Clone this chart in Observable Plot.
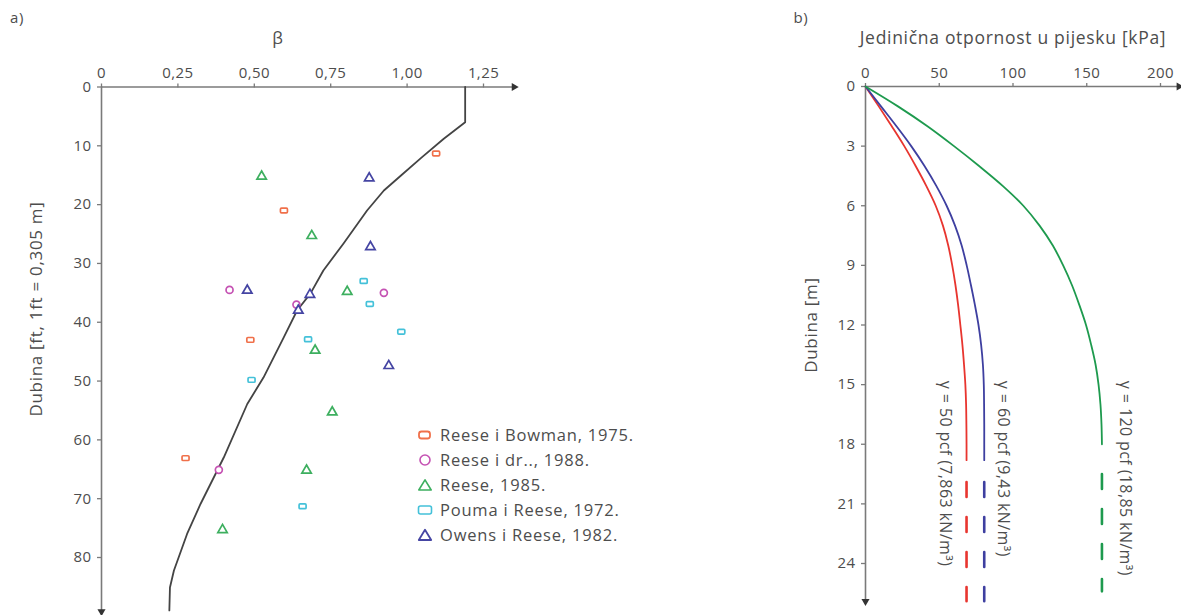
<!DOCTYPE html>
<html><head><meta charset="utf-8">
<script src="https://cdn.jsdelivr.net/npm/d3@7"></script>
<script src="https://cdn.jsdelivr.net/npm/@observablehq/plot@0.6"></script>
<style>
body{margin:0;background:#fff;font-family:"Open Sans",sans-serif;color:#4d4d4d}
#wrap{position:relative;width:1181px;height:615px;overflow:hidden;background:#fff}
.abs{position:absolute;white-space:nowrap;line-height:1;letter-spacing:0.7px}
.plot{position:absolute;top:0}
.leg{position:absolute;left:416px;top:422px;font-size:16.5px;color:#4d4d4d;letter-spacing:0.8px}
.leg div{height:25px;display:flex;align-items:center}
.leg svg{width:18px;height:14px;margin-right:6px}
</style></head><body><div id="wrap"></div>
<script>
// ---------- Panel a) data ----------
const betaTicks = [0, 0.25, 0.5, 0.75, 1.0, 1.25];
const depthFtTicks = [0, 10, 20, 30, 40, 50, 60, 70, 80];
const curveDepth = [0, 6, 8.8, 12, 15, 17.6, 21, 26.6, 31.2, 35.1, 38, 42.6, 49.4, 53.9, 63, 70.9, 76, 82.2, 85.1, 89];
const curveBeta  = [1.19, 1.19, 1.12, 1.047, 0.981, 0.924, 0.869, 0.792, 0.726, 0.684, 0.640, 0.596, 0.530, 0.477, 0.400, 0.324, 0.280, 0.237, 0.224, 0.222];

const seriesNames = ["Reese i Bowman, 1975.", "Reese i dr.., 1988.", "Reese, 1985.", "Pouma i Reese, 1972.", "Owens i Reese, 1982."];
const bowmanBeta  = [1.095, 0.597, 0.487, 0.275];
const bowmanDepth = [11.3, 21.0, 43.0, 63.1];
const reeseDrBeta  = [0.419, 0.924, 0.638, 0.384];
const reeseDrDepth = [34.5, 35.0, 37.0, 65.1];
const reese85Beta  = [0.524, 0.688, 0.804, 0.699, 0.755, 0.671, 0.396];
const reese85Depth = [15.2, 25.3, 34.8, 44.8, 55.3, 65.2, 75.3];
const poumaBeta  = [0.858, 0.878, 0.981, 0.676, 0.491, 0.658];
const poumaDepth = [33.0, 36.9, 41.6, 42.9, 49.8, 71.3];
const owensBeta  = [0.876, 0.880, 0.477, 0.682, 0.644, 0.940];
const owensDepth = [15.5, 27.2, 34.6, 35.3, 38.0, 47.4];

// ---------- Panel b) data ----------
const kpaTicks = [0, 50, 100, 150, 200];
const depthMTicks = [0, 3, 6, 9, 12, 15, 18, 21, 24];
const depthM = [0, 1, 2, 3, 4, 5, 6, 7, 8, 9, 10, 11, 12, 13, 14, 15, 16, 17, 18, 18.8];
const q50  = [0, 9, 17.8, 26.3, 34, 41.2, 47.6, 52.5, 56.1, 58.8, 61, 62.8, 64.3, 65.7, 66.8, 67.7, 68.2, 68.4, 68.5, 68.5];
const q60  = [0, 10.5, 21, 31, 40, 48, 55, 60.7, 65.2, 68.6, 71.5, 74.2, 76.6, 78.4, 79.6, 80.2, 80.4, 80.5, 80.5, 80.5];
const q120 = [0, 22, 42, 60, 77, 93, 107, 118, 127, 134, 140, 145, 149.5, 153, 156, 158, 159.3, 160, 160.3, 160.3];
const solidEnd  = [18.8, 18.8, 18.4];
const dashStart = [19.9, 19.9, 19.5];
const dashEnd   = [25.9, 25.9, 25.4];
const curveLabels = ["γ = 50 pcf (7,863 kN/m³)", "γ = 60 pcf (9,43 kN/m³)", "γ = 120 pcf (18,85 kN/m³)"];

// ---------- styling ----------
const FONT = '"Open Sans", sans-serif';
const AX = "#7a7a7a", TXT = "#4d4d4d";
const ptColors = ["#f0704a", "#c552b3", "#3daf5f", "#44c1d9", "#4545a3"];
const lineColors = ["#e8352f", "#3e3fa0", "#1e9a4e"];
const BETA_END = 1.35, FT_END = 89.2, KPA_END = 212.5, M_END = 25.9;

const flatRect = {draw(ctx, size) {
  const s = Math.sqrt(size / Math.PI), w = s * 1.0, h = s * 0.68, r = s * 0.3;
  ctx.moveTo(-w + r, -h); ctx.lineTo(w - r, -h); ctx.arcTo(w, -h, w, -h + r, r);
  ctx.lineTo(w, h - r); ctx.arcTo(w, h, w - r, h, r); ctx.lineTo(-w + r, h);
  ctx.arcTo(-w, h, -w, h - r, r); ctx.lineTo(-w, -h + r); ctx.arcTo(-w, -h, -w + r, -h, r); ctx.closePath();
}};
const symbols = [flatRect, "circle", "triangle", flatRect, "triangle"];

const fmtComma = d => d === 0 ? "0" : d.toFixed(2).replace(".", ",");

const wrap = document.getElementById("wrap");
const plotStyle = {fontFamily: FONT, fontSize: "15px", color: TXT, background: "transparent", overflow: "visible", letterSpacing: "0.4px"};

// ---------- panel a ----------
const pts = [];
[[bowmanBeta, bowmanDepth], [reeseDrBeta, reeseDrDepth], [reese85Beta, reese85Depth], [poumaBeta, poumaDepth], [owensBeta, owensDepth]]
  .forEach(([b, d], i) => b.forEach((v, j) => pts.push({beta: v, depth: d[j], s: i})));
const curve = curveBeta.map((b, i) => ({beta: b, depth: curveDepth[i]}));

const plotA = Plot.plot({
  width: 590, height: 615,
  marginTop: 86.5, marginLeft: 101, marginRight: 40, marginBottom: 5,
  style: plotStyle,
  x: {domain: [0, 1.25], range: [101, 483]},
  y: {domain: [0, 80], range: [86.5, 557]},
  marks: [
    Plot.axisX({anchor: "top", ticks: betaTicks, tickFormat: fmtComma, tickSize: 4, tickPadding: 5, label: null, stroke: AX, fill: TXT, strokeWidth: 1.3}),
    Plot.axisY({anchor: "left", ticks: depthFtTicks, tickSize: 4, tickPadding: 6, label: null, stroke: AX, fill: TXT, strokeWidth: 1.3}),
    Plot.ruleY([0], {x1: 0, x2: BETA_END, stroke: AX, strokeWidth: 1.6}),
    Plot.ruleX([0], {y1: 0, y2: FT_END, stroke: AX, strokeWidth: 1.6}),
    Plot.dot([{x: BETA_END, y: 0}], {x: "x", y: "y", symbol: "triangle", r: 3, fill: "#333", stroke: "none", rotate: 90}),
    Plot.dot([{x: 0, y: FT_END}], {x: "x", y: "y", symbol: "triangle", r: 3, fill: "#333", stroke: "none", rotate: 180}),
    Plot.line(curve, {x: "beta", y: "depth", stroke: "#444", strokeWidth: 1.8}),
    Plot.dot(pts, {x: "beta", y: "depth", r: 3.5, strokeWidth: 1.7, fill: "white",
      stroke: d => ptColors[d.s], symbol: d => symbols[d.s]}),
  ]
});
plotA.classList.add("plot"); plotA.style.left = "0px";
wrap.appendChild(plotA);

// ---------- panel b ----------
const series = [q50, q60, q120];
const plotB = Plot.plot({
  width: 591, height: 615,
  marginTop: 86, marginLeft: 275, marginRight: 10, marginBottom: 5,
  style: plotStyle,
  x: {domain: [0, 200], range: [275, 570]},
  y: {domain: [0, 24], range: [86, 563]},
  marks: [
    Plot.axisX({anchor: "top", ticks: kpaTicks, tickSize: 4, tickPadding: 5, label: null, stroke: AX, fill: TXT, strokeWidth: 1.3}),
    Plot.axisY({anchor: "left", ticks: depthMTicks, tickSize: 4, tickPadding: 6, label: null, stroke: AX, fill: TXT, strokeWidth: 1.3}),
    Plot.ruleY([0], {x1: 0, x2: KPA_END, stroke: AX, strokeWidth: 1.6}),
    Plot.ruleX([0], {y1: 0, y2: M_END, stroke: AX, strokeWidth: 1.6}),
    Plot.dot([{x: KPA_END, y: 0}], {x: "x", y: "y", symbol: "triangle", r: 3, fill: "#333", stroke: "none", rotate: 90}),
    Plot.dot([{x: 0, y: M_END}], {x: "x", y: "y", symbol: "triangle", r: 3, fill: "#333", stroke: "none", rotate: 180}),
    ...series.flatMap((vals, i) => {
      const solid = depthM.map((d, j) => ({d, v: vals[j]})).filter(p => p.d <= solidEnd[i]);
      const last = vals[vals.length - 1];
      const dashed = [{d: dashStart[i], v: last}, {d: dashEnd[i], v: last}];
      const lbl = [{d: 14.8, v: last, t: curveLabels[i]}];
      const dx = [-21, 19, 23][i];
      return [
        Plot.line(solid, {x: "v", y: "d", stroke: lineColors[i], strokeWidth: 1.8, curve: "catmull-rom"}),
        Plot.line(dashed, {x: "v", y: "d", stroke: lineColors[i], strokeWidth: 2.6, strokeDasharray: "15,20"}),
        Plot.text(lbl, {x: "v", y: "d", text: "t", rotate: 90, textAnchor: "start", lineAnchor: "middle", dx, fill: TXT, fontSize: 16, letterSpacing: "0.8px"})
      ];
    })
  ]
});
plotB.classList.add("plot"); plotB.style.left = "590px";
wrap.appendChild(plotB);

// ---------- titles & labels ----------
function label(text, x, y, size, rot) {
  const el = document.createElement("div");
  el.className = "abs"; el.textContent = text;
  el.style.left = x + "px"; el.style.top = y + "px"; el.style.fontSize = size + "px";
  el.style.transform = "translate(-50%,-50%)" + (rot ? ` rotate(${rot}deg)` : "");
  wrap.appendChild(el);
}
label("a)", 17, 17, 15);
label("β", 278, 37, 17);
label("Dubina [ft, 1ft = 0,305 m]", 35, 309, 17, -90);
label("b)", 801, 17, 15);
label("Jedinična otpornost u pijesku [kPa]", 1013, 38, 17.5);
label("Dubina [m]", 810, 325, 17, -90);

// ---------- legend ----------
const legendIcons = [
  c => `<rect x="3" y="3.5" width="11" height="7" rx="2.5" fill="none" stroke="${c}" stroke-width="1.8"/>`,
  c => `<circle cx="9" cy="7" r="5" fill="none" stroke="${c}" stroke-width="1.6"/>`,
  c => `<path d="M9 1.8 L15.2 12 L2.8 12 Z" fill="none" stroke="${c}" stroke-width="1.6" stroke-linejoin="round"/>`,
  c => `<rect x="2.5" y="3" width="13" height="8" rx="2" fill="none" stroke="${c}" stroke-width="1.6"/>`,
  c => `<path d="M9 1.8 L15.2 12 L2.8 12 Z" fill="none" stroke="${c}" stroke-width="1.8" stroke-linejoin="round"/>`
];
const leg = document.createElement("div");
leg.className = "leg";
leg.innerHTML = seriesNames.map((n, i) => `<div><svg viewBox="0 0 18 14">${legendIcons[i](ptColors[i])}</svg><span>${n}</span></div>`).join("");
wrap.appendChild(leg);
</script></body></html>
